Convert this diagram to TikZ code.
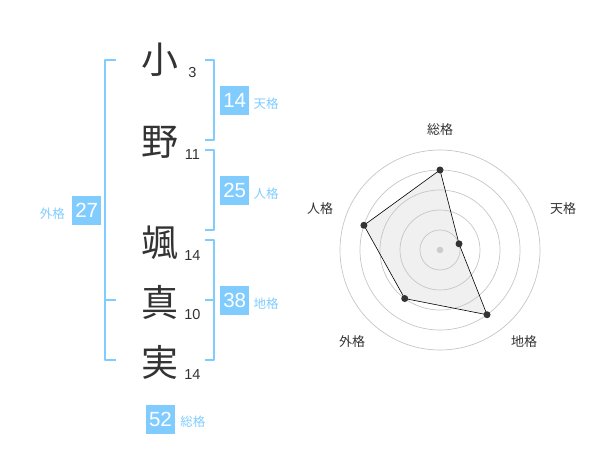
\documentclass[tikz,border=0pt]{standalone}
\usepackage{fontspec}
\setmainfont{Noto Sans CJK JP}
\newfontfamily\numfont{Liberation Sans}
\usetikzlibrary{positioning}
\definecolor{kakublue}{HTML}{80CCFF}
\definecolor{moji}{HTML}{333333}
\begin{document}
\begin{tikzpicture}[x=1pt, y=-1pt, line join=round, text=moji,
	kanji/.style={font=\fontsize{37}{37}\selectfont, inner sep=0pt},
	kakusu/.style={font=\numfont\fontsize{14.5}{14.5}\selectfont, inner sep=0pt},
	kakubox/.style={fill=kakublue, text=white, minimum size=29pt, inner sep=0pt, font=\numfont\fontsize{20.5}{20.5}\selectfont},
	kakulab/.style={text=kakublue, font=\fontsize{12.5}{12.5}\selectfont, inner sep=0pt},
	kakko/.style={draw=kakublue, line width=1.6pt},
	radarlab/.style={font=\fontsize{13}{13}\selectfont, inner sep=0pt}]
	\useasboundingbox (0,0) rectangle (600,470);
	% kanji and stroke counts
	\foreach \ji/\su/\y/\ten in {小/3/60/a, 野/11/142/b, 颯/14/243/c, 真/10/302/d, 実/14/362/e}{
		\node[kanji] (\ten) at (160,\y) {\ji};
		\node[kakusu] (\ten s) at (192.5,\y+12.7) {\su};
	}
	% brackets
	\path
	(116,60) coordinate (G1)
	(105,300) coordinate (G2)
	(116,360) coordinate (G3)
	;
	\draw[kakko] (G1)--(105,60)--(105,360)--(G3) (G2)--(116,300);
	\draw[kakko] (205,60)--(214,60)--(214,140)--(205,140);
	\draw[kakko] (205,150)--(214,150)--(214,230)--(205,230);
	\draw[kakko] (205,240)--(214,240)--(214,360)--(205,360) (205,300)--(214,300);
	% boxes
	\foreach \su/\kaku/\x/\y/\kc in {14/天格/234.7/100.3/4, 25/人格/234.7/190.3/4, 38/地格/234.7/300.3/4, 52/総格/160.5/419/5}{
		\node[kakubox] (k\su) at (\x,\y) {\su};
		\node[kakulab, right=\kc pt of k\su, yshift=-3pt] (l\su) {\kaku};
	}
	\node[kakubox] (k27) at (86.7,210.3) {27};
	\node[kakulab, left=7pt of k27, yshift=-3pt] (l27) {外格};
	% radar
	\begin{scope}[shift={(440,250)}, yscale=-1]
	\foreach \kaku/\goc/\r/\ten in {総格/90/80/p1, 天格/18/20/p2, 地格/-54/80/p3, 外格/-126/60/p4, 人格/162/80/p5}
		\coordinate (\ten) at (\goc:\r);
	\fill[gray!12] (p1)--(p2)--(p3)--(p4)--(p5)--cycle;
	\foreach \r in {20,40,...,100}
		\draw[gray!45, line width=0.7pt] (0,0) circle[radius=\r pt];
	\draw[black, line width=0.6pt] (p1)--(p2)--(p3)--(p4)--(p5)--cycle;
	\foreach \ten in {p1,p2,p3,p4,p5}
		\fill[moji] (\ten) circle[radius=3.5pt];
	\fill[gray!40] (0,0) circle[radius=3.3pt];
	\end{scope}
	\foreach \kaku/\x/\y/\ten in {総格/440/130/r1, 天格/563/209/r2, 地格/524/342/r3, 外格/352/342/r4, 人格/320/209/r5}
		\node[radarlab] (\ten) at (\x,\y) {\kaku};
\end{tikzpicture}
\end{document}
